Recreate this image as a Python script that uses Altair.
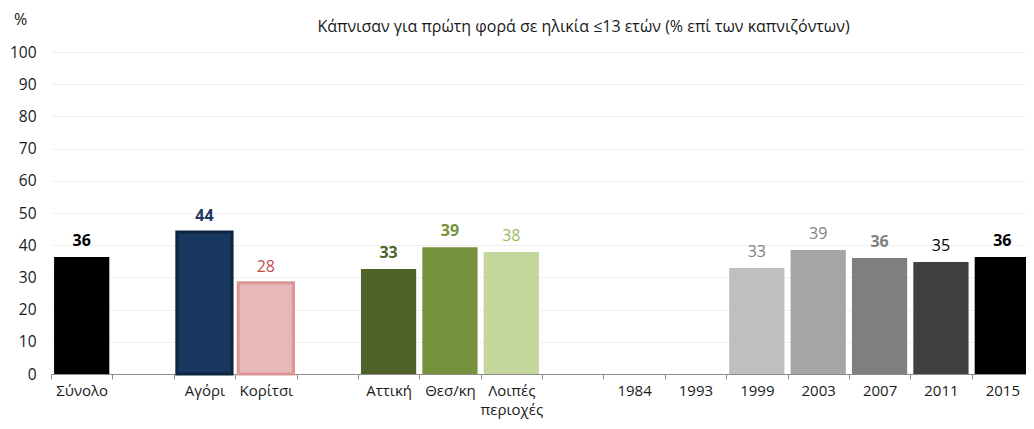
import altair as alt
import pandas as pd

categories = ["Σύνολο", " ", "Αγόρι", "Κορίτσι", "  ", "Αττική", "Θεσ/κη", "Λοιπές περιοχές", "   ",
              "1984", "1993", "1999", "2003", "2007", "2011", "2015"]
values = [36.3, None, 44.1, 28.3, None, 32.6, 39.4, 37.9, None, None, None, 32.9, 38.5, 36.0, 34.8, 36.3]
labels = ["36", "", "44", "28", "", "33", "39", "38", "", "", "", "33", "39", "36", "35", "36"]
bar_colors = ["#000000", "#ffffff", "#17375e", "#e6b9b8", "#ffffff", "#4f6228", "#76923c", "#c3d69b", "#ffffff",
              "#ffffff", "#ffffff", "#bfbfbf", "#a6a6a6", "#7f7f7f", "#404040", "#000000"]
stroke_colors = ["transparent", "transparent", "#0f243e", "#d99694", "transparent", "transparent", "transparent",
                 "transparent", "transparent", "transparent", "transparent", "transparent", "transparent",
                 "transparent", "transparent", "transparent"]
stroke_widths = [0, 0, 3, 3, 0, 0, 0, 0, 0, 0, 0, 0, 0, 0, 0, 0]
label_colors = ["#000000", "#000000", "#1f3864", "#c0504d", "#000000", "#4f6228", "#76923c", "#9bbb59", "#000000",
                "#000000", "#000000", "#808080", "#808080", "#7f7f7f", "#000000", "#000000"]
label_bold = [True, False, True, False, False, True, True, False, False, False, False, False, False, True, False, True]

df = pd.DataFrame({
    "cat": categories,
    "value": values,
    "label": labels,
    "fill": bar_colors,
    "stroke": stroke_colors,
    "sw": stroke_widths,
    "lcolor": label_colors,
    "bold": label_bold,
})
df = df[df["value"].notna()]

FONT = "Open Sans"

x = alt.X("cat:N", sort=categories,
          scale=alt.Scale(domain=categories, paddingInner=0, paddingOuter=0, range=[0, 982]),
          axis=alt.Axis(title=None, labelAngle=0, tickBand="extent", ticks=True, tickSize=5,
                        tickColor="#8c8c8c", domainColor="#8c8c8c", labelFont=FONT, labelFontSize=15,
                        labelColor="#1a1a1a", labelPadding=4, labelLineHeight=19, grid=False,
                        labelExpr="split(datum.label, ' ')"))
y = alt.Y("value:Q", scale=alt.Scale(domain=[0, 100], nice=False),
          axis=alt.Axis(title="%", titleAngle=0, titleX=-31, titleY=-33, titleAlign="center",
                        titleBaseline="middle", titleFont=FONT, titleFontSize=16, titleFontWeight="normal",
                        titleColor="#1a1a1a",
                        values=list(range(0, 101, 10)), ticks=False, domain=False, labelFont=FONT,
                        labelFontSize=15.5, labelColor="#1a1a1a", labelPadding=15,
                        gridColor="#efefef", gridWidth=1))

base = alt.Chart(df)

bars = base.mark_bar(width=alt.RelativeBandSize(0.9)).encode(
    x=x, y=y,
    fill=alt.Fill("fill:N", scale=None),
    stroke=alt.Stroke("stroke:N", scale=None),
    strokeWidth=alt.StrokeWidth("sw:Q", scale=None),
)

text_bold = base.transform_filter("datum.bold").mark_text(
    font=FONT, fontSize=16, fontWeight="bold", baseline="middle", dy=-16
).encode(x=x, y=y, text="label:N", color=alt.Color("lcolor:N", scale=None))

text_norm = base.transform_filter("!datum.bold").mark_text(
    font=FONT, fontSize=16, fontWeight="normal", baseline="middle", dy=-16
).encode(x=x, y=y, text="label:N", color=alt.Color("lcolor:N", scale=None))

chart = alt.layer(bars, text_bold, text_norm).properties(
    width=975, height=322,
    autosize=alt.AutoSizeParams(type="none"),
    padding={"left": 43, "top": 44, "right": 0, "bottom": 47},
    title=alt.TitleParams("Κάπνισαν για πρώτη φορά σε ηλικία ≤13 ετών (% επί των καπνιζόντων)",
                          font=FONT, fontSize=16, fontWeight="normal", color="#1a1a1a",
                          anchor="middle", dx=45, offset=0, dy=24),
).configure_view(stroke=None)

chart.save("out.html", embed_options={"renderer": "svg", "actions": False})
